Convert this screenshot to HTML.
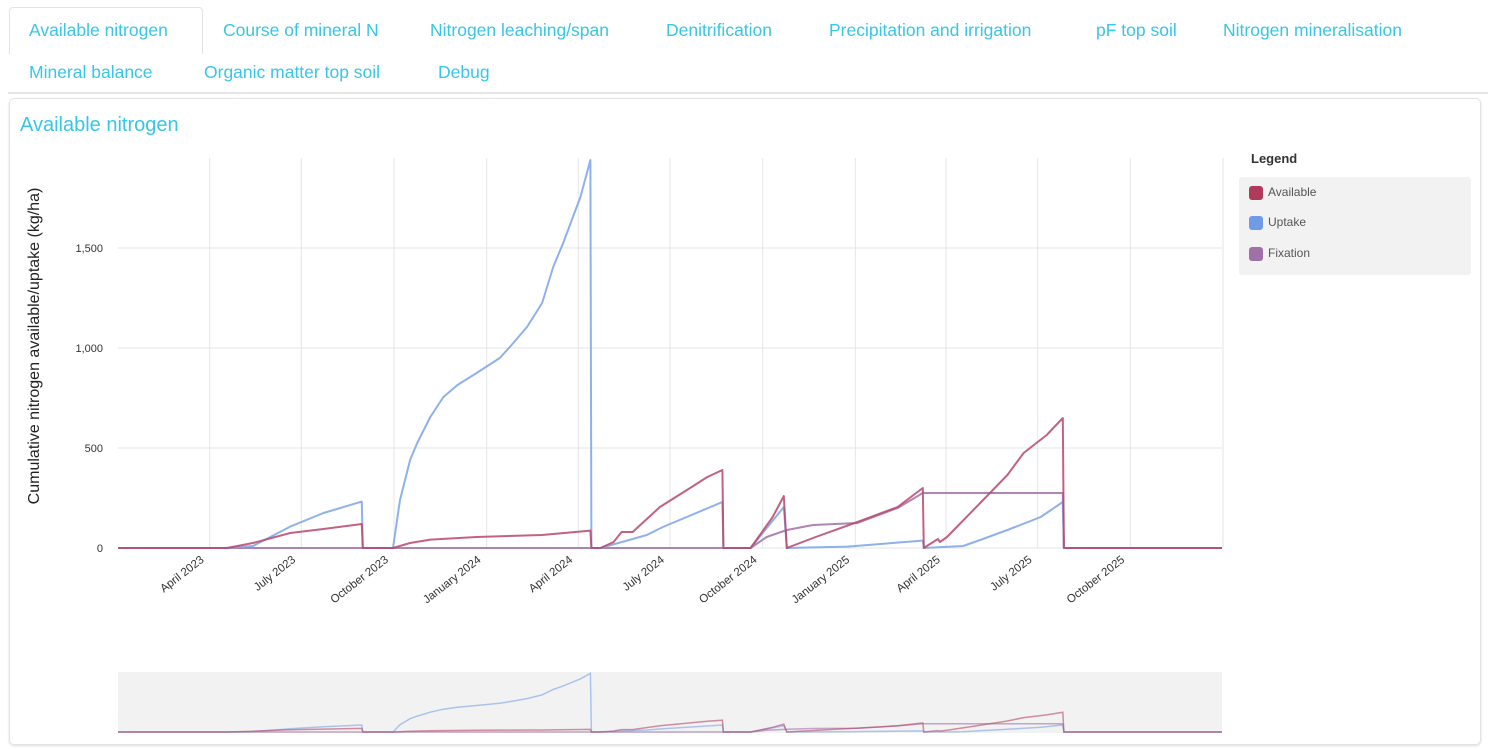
<!DOCTYPE html>
<html><head><meta charset="utf-8"><style>
body{margin:0;width:1500px;height:749px;background:#fff;font-family:"Liberation Sans",sans-serif;overflow:hidden;position:relative}
.tab{position:absolute;font-size:17.5px;color:#38c6e6;white-space:nowrap;cursor:pointer}
</style></head><body>
<div style="position:absolute;left:9px;top:7px;width:192px;height:46px;border:1px solid #e3e3e3;border-bottom:none;border-radius:4px 4px 0 0;background:#fff"></div>
<div class="tab" style="left:29px;top:20px">Available nitrogen</div>
<div class="tab" style="left:223px;top:20px">Course of mineral N</div>
<div class="tab" style="left:430px;top:20px">Nitrogen leaching/span</div>
<div class="tab" style="left:666px;top:20px">Denitrification</div>
<div class="tab" style="left:829px;top:20px">Precipitation and irrigation</div>
<div class="tab" style="left:1096px;top:20px">pF top soil</div>
<div class="tab" style="left:1223px;top:20px">Nitrogen mineralisation</div>
<div class="tab" style="left:29px;top:62px">Mineral balance</div>
<div class="tab" style="left:204px;top:62px">Organic matter top soil</div>
<div class="tab" style="left:438px;top:62px">Debug</div>
<div style="position:absolute;left:8px;top:92px;width:1480px;height:2px;background:#e6e6e6"></div>
<div style="position:absolute;left:9px;top:98px;width:1470px;height:645px;border:1px solid #e3e3e3;border-radius:5px;box-shadow:0 1px 2px #ddd"></div>
<div style="position:absolute;left:20px;top:114px;font-size:20px;color:#38c6e6">Available nitrogen</div>
<div style="position:absolute;left:1251px;top:151px;font-size:13px;font-weight:bold;color:#333">Legend</div>
<div style="position:absolute;left:1239px;top:177px;width:232px;height:98px;background:#f2f2f2;border-radius:3px">
 <div style="position:absolute;left:10px;top:8px;font-size:12px;color:#555"><span style="display:inline-block;width:14px;height:14px;background:#b03a5b;border-radius:3px;vertical-align:middle;margin-right:5px"></span>Available</div>
 <div style="position:absolute;left:10px;top:38px;font-size:12px;color:#555"><span style="display:inline-block;width:14px;height:14px;background:#6f9be6;border-radius:3px;vertical-align:middle;margin-right:5px"></span>Uptake</div>
 <div style="position:absolute;left:10px;top:69px;font-size:12px;color:#555"><span style="display:inline-block;width:14px;height:14px;background:#a070a8;border-radius:3px;vertical-align:middle;margin-right:5px"></span>Fixation</div>
</div>
<svg id="chart" width="1500" height="749" style="position:absolute;left:0;top:0" xmlns="http://www.w3.org/2000/svg"></svg>
<script>
// days since 2023-01-01
const availDays=[0,108,134,171,204,242,243,273,290,310,356,421,469,470,479,492,500,511,538,568,585,600,601,628,650,661,664,690,734,774,799,800,803,814,816,823,856,883,899,922,938,939,1096];
const availVals=[0,0,25,75,95,120,0,0,25,42,55,65,87,0,0,30,80,80,205,300,355,390,0,0,155,260,0,50,130,205,300,0,10,45,30,55,225,365,475,565,650,0,0];
const uptakeDays=[0,108,134,171,204,242,243,273,280,290,297,310,323,337,356,379,389,406,421,432,442,459,469,470,479,525,541,600,601,628,661,664,724,799,800,839,856,883,916,938,939,1096];
const uptakeVals=[0,0,10,107,175,232,0,0,240,440,525,655,755,815,875,950,1005,1105,1225,1405,1525,1755,1940,0,0,65,105,230,0,0,205,0,7,37,0,10,40,90,155,230,0,0];
const fixDays=[0,628,644,664,690,734,774,799,809,938,939,1096];
const fixVals=[0,0,55,90,115,125,200,275,275,275,0,0];
const yTicks=[0,500,1000,1500];
const yTickLabels=["0","500","1,000","1,500"];
const xTickDays=[90,181,273,365,456,547,639,731,821,912,1004,1096];
const xTickLabels=["April 2023","July 2023","October 2023","January 2024","April 2024","July 2024","October 2024","January 2025","April 2025","July 2025","October 2025",""];

const svg=document.getElementById('chart');
const NS='http://www.w3.org/2000/svg';
const X0=118,X1=1222,Y0=548,YTOP=158,YMAX=1950,DMAX=1096;
const xs=d=>X0+(X1-X0)*d/DMAX;
const ys=v=>Y0-(Y0-YTOP)*v/YMAX;
const NY0=732,NYT=673,NMAX=1950;
const nys=v=>NY0-(NY0-NYT)*v/NMAX;
function mk(t,a){const e=document.createElementNS(NS,t);for(const k in a)e.setAttribute(k,a[k]);svg.appendChild(e);return e;}
yTicks.forEach((v,i)=>{
 const g=mk('line',{x1:X0,x2:X1,y1:ys(v),y2:ys(v),stroke:'#e6e6e6','stroke-width':1});
 
 
 const t=mk('text',{x:103,y:ys(v)+4,'text-anchor':'end','font-size':11,fill:'#333'});
 t.textContent=yTickLabels[i];
 
 
});
xTickDays.forEach((d,i)=>{
 const g=mk('line',{x1:xs(d)+1,x2:xs(d)+1,y1:YTOP,y2:Y0,stroke:'#e6e6e6','stroke-width':1});
 
 
 const x=xs(d)-4,y=Y0+13;
 const t=mk('text',{x:x,y:y,'text-anchor':'end','font-size':11.5,fill:'#333',transform:`rotate(-38 ${x} ${y})`});
 t.textContent=xTickLabels[i];
 
 
});
const yt=mk('text',{x:39,y:346,'text-anchor':'middle','font-size':16,fill:'#222',transform:'rotate(-90 39 346)'});
yt.textContent='Cumulative nitrogen available/uptake (kg/ha)';


const nav=mk('rect',{x:X0,y:672,width:X1-X0,height:61,fill:'#f2f2f2'});


function path(days,vals,yf){return days.map((d,i)=>(i?'L':'M')+xs(d).toFixed(1)+','+yf(vals[i]).toFixed(1)).join(' ');}
const series=[[fixDays,fixVals,'#a070a8','fixation'],[uptakeDays,uptakeVals,'#7aa3ea','uptake'],[availDays,availVals,'#b8476a','available']];
series.forEach(s=>{
 const p=mk('path',{d:path(s[0],s[1],ys),fill:'none',stroke:s[2],'stroke-width':2,'stroke-opacity':0.85,'stroke-linejoin':'round'});
 
 
 const n=mk('path',{d:path(s[0],s[1],nys),fill:'none',stroke:s[2],'stroke-width':1.5,'stroke-opacity':0.6});
 
 
});
</script>
</body></html>
